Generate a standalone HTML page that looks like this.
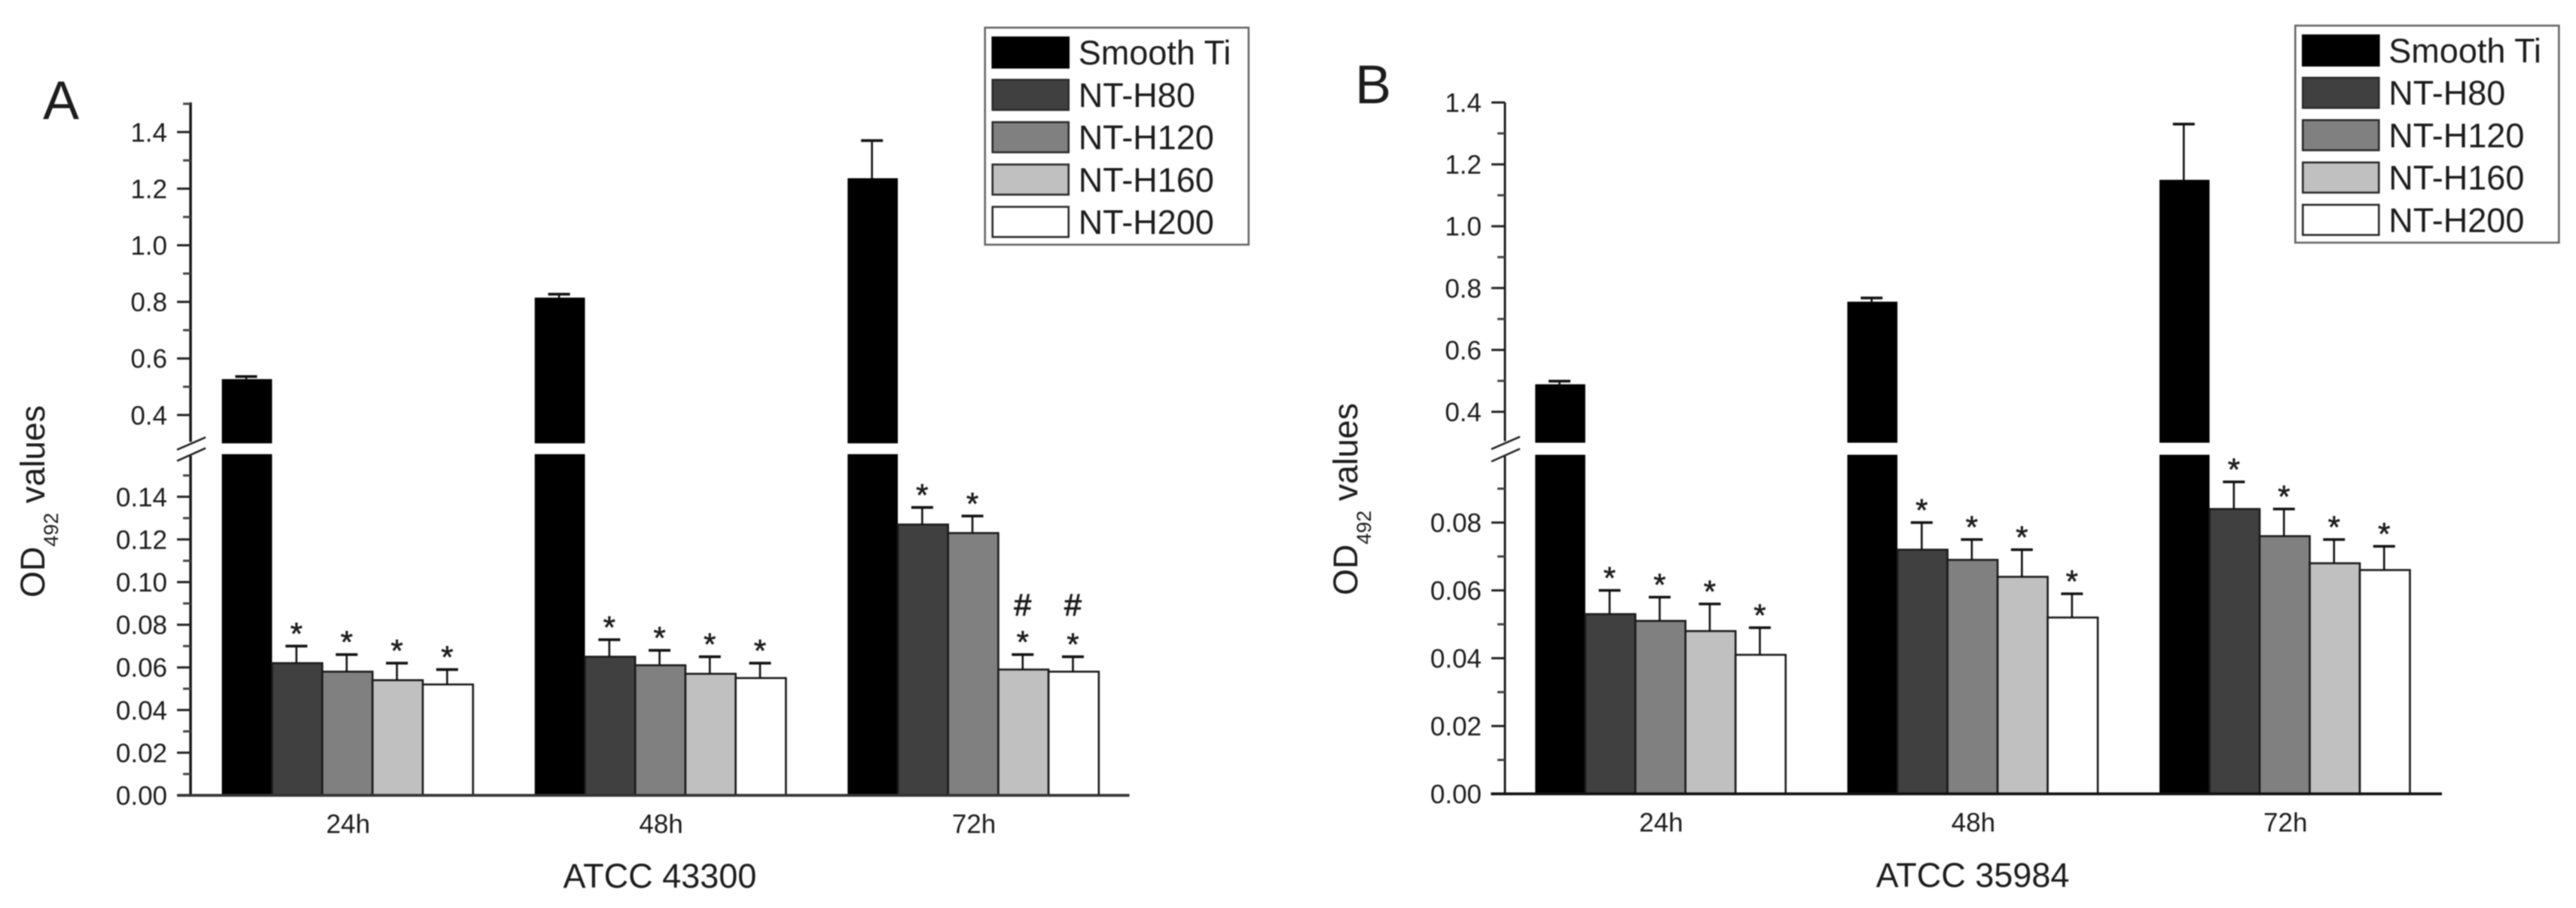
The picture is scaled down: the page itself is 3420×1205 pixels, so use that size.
<!DOCTYPE html>
<html lang="en">
<head>
<meta charset="utf-8">
<title>OD492 values for ATCC 43300 and ATCC 35984</title>
<style>
html,body{margin:0;padding:0;background:#fff;width:3420px;height:1205px;overflow:hidden}
#figure{display:block;filter:blur(0.9px)}
text{font-family:"Liberation Sans",Arial,sans-serif;fill:#1c1c1c}
</style>
</head>
<body>
<svg id="figure" xmlns="http://www.w3.org/2000/svg" width="3420" height="1205" viewBox="0 0 3420 1205">
  <rect x="0" y="0" width="3420" height="1205" fill="#fff"/>
  <text x="57" y="158" font-size="72">A</text>
  <text x="1799" y="137" font-size="72">B</text>
  <text transform="translate(59,793) rotate(-90)" font-size="45">OD<tspan font-size="27" dy="18">492</tspan><tspan dy="-18"> values</tspan></text>
  <text transform="translate(1802,790) rotate(-90)" font-size="45">OD<tspan font-size="27" dy="18">492</tspan><tspan dy="-18"> values</tspan></text>
  <text x="876" y="1178" font-size="45" text-anchor="middle">ATCC 43300</text>
  <text x="2619" y="1177" font-size="45" text-anchor="middle">ATCC 35984</text>
  <g id="panel-a"></g>
  <g id="panel-b"></g>
</svg>
<script>
// Shared categories and series
const categories = ["24h", "48h", "72h"];
const seriesNames = ["Smooth Ti", "NT-H80", "NT-H120", "NT-H160", "NT-H200"];

// Panel A values (one array per series, in category order)
const smoothTiA = [0.527, 0.815, 1.237];
const h80A = [0.062, 0.065, 0.127];
const h120A = [0.058, 0.061, 0.123];
const h160A = [0.054, 0.057, 0.059];
const h200A = [0.052, 0.055, 0.058];
// Panel A upper error bars
const smoothTiErrA = [0.009, 0.012, 0.133];
const h80ErrA = [0.008, 0.008, 0.008];
const h120ErrA = [0.008, 0.007, 0.008];
const h160ErrA = [0.008, 0.008, 0.007];
const h200ErrA = [0.007, 0.007, 0.007];
// Panel A hash markers: series index, category index, value height
const hashSeriesA = [3, 4];
const hashCategoryA = [2, 2];
const hashLevelA = [0.0845, 0.0845];
// Panel A tick labels
const upperTicksA = ["0.4", "0.6", "0.8", "1.0", "1.2", "1.4"];
const upperMinorA = [0.5, 0.7, 0.9, 1.1, 1.3, 1.5];
const lowerTicksA = ["0.00", "0.02", "0.04", "0.06", "0.08", "0.10", "0.12", "0.14"];
const lowerMinorA = [0.01, 0.03, 0.05, 0.07, 0.09, 0.11, 0.13, 0.15];

// Panel B values
const smoothTiB = [0.489, 0.756, 1.15];
const h80B = [0.053, 0.072, 0.084];
const h120B = [0.051, 0.069, 0.076];
const h160B = [0.048, 0.064, 0.068];
const h200B = [0.041, 0.052, 0.066];
// Panel B upper error bars
const smoothTiErrB = [0.01, 0.012, 0.18];
const h80ErrB = [0.007, 0.008, 0.008];
const h120ErrB = [0.007, 0.006, 0.008];
const h160ErrB = [0.008, 0.008, 0.007];
const h200ErrB = [0.008, 0.007, 0.007];
// Panel B tick labels
const upperTicksB = ["0.4", "0.6", "0.8", "1.0", "1.2", "1.4"];
const upperMinorB = [0.5, 0.7, 0.9, 1.1, 1.3];
const lowerTicksB = ["0.00", "0.02", "0.04", "0.06", "0.08"];
const lowerMinorB = [0.01, 0.03, 0.05, 0.07, 0.09];

const NS = "http://www.w3.org/2000/svg";
const seriesStyle = [
  {fill: "#000000", stroke: "#000000"},
  {fill: "#404040", stroke: "#1a1a1a"},
  {fill: "#808080", stroke: "#1a1a1a"},
  {fill: "#c0c0c0", stroke: "#1a1a1a"},
  {fill: "#ffffff", stroke: "#1a1a1a"}
];

function shape(parent, tag, props, text) {
  const el = document.createElementNS(NS, tag);
  for (const key in props) el.setAttribute(key, props[key]);
  if (text !== undefined) el.textContent = text;
  parent.appendChild(el);
  return el;
}

function drawPanel(cfg) {
  const root = document.getElementById(cfg.id);
  const breakLow = cfg.lowerMax, breakHigh = 0.3;
  const yLower = v => cfg.zeroY - v * cfg.lowerScale;
  const yUpper = v => cfg.upper04Y + (0.4 - v) * cfg.upperScale;
  const y = v => (v <= breakLow ? yLower(v) : yUpper(Math.max(v, breakHigh)));
  const xBar = (cat, ser) => cfg.groupX + cat * cfg.groupStep + ser * cfg.barW;

  // Bars
  cfg.values.forEach((vals, ser) => {
    vals.forEach((v, cat) => {
      const st = seriesStyle[ser];
      const x = xBar(cat, ser);
      if (v > breakLow) {
        const low = shape(root, "rect", {x: x, y: yLower(breakLow), width: cfg.barW, height: yLower(0) - yLower(breakLow), fill: st.fill});
        
        
        const high = shape(root, "rect", {x: x, y: yUpper(v), width: cfg.barW, height: yUpper(breakHigh) - yUpper(v), fill: st.fill});
        
        
      } else {
        const bar = shape(root, "rect", {x: x, y: yLower(v), width: cfg.barW, height: yLower(0) - yLower(v), fill: st.fill, stroke: st.stroke, "stroke-width": 2.6});
        
        
      }
    });
  });

  // Error bars and significance stars
  cfg.errors.forEach((errs, ser) => {
    errs.forEach((e, cat) => {
      const v = cfg.values[ser][cat];
      const top = y(v + e);
      const cx = xBar(cat, ser) + cfg.barW / 2 - 1;
      const stem = shape(root, "line", {x1: cx, x2: cx, y1: y(v), y2: top, stroke: "#111", "stroke-width": 2.6});
      
      
      const cap = shape(root, "line", {x1: cx - 14.5, x2: cx + 14.5, y1: top, y2: top, stroke: "#111", "stroke-width": 3.6});
      
      
      if (ser > 0) {
        const star = shape(root, "text", {x: cx, y: top - 2, "font-size": 42, "text-anchor": "middle", stroke: "#1c1c1c", "stroke-width": 0.6}, "*");
        
        
      }
    });
  });

  // Hash markers
  cfg.hashSeries.forEach((ser, i) => {
    const hash = shape(root, "text", {x: xBar(cfg.hashCategory[i], ser) + cfg.barW / 2 - 1, y: yLower(cfg.hashLevel[i]), "font-size": 41, "text-anchor": "middle", stroke: "#1c1c1c", "stroke-width": 1}, "#");
    
    
  });

  // Y axis segments
  const upperAxis = shape(root, "line", {x1: cfg.axisX, x2: cfg.axisX, y1: yUpper(cfg.upperMax), y2: yUpper(breakHigh) - 2, stroke: "#111", "stroke-width": cfg.axisW});
  
  
  const lowerAxis = shape(root, "line", {x1: cfg.axisX, x2: cfg.axisX, y1: yLower(breakLow) + 2, y2: cfg.zeroY, stroke: "#111", "stroke-width": cfg.axisW});
  
  

  // Axis break marks
  const slashA = shape(root, "line", {x1: cfg.axisX - 18, y1: yUpper(breakHigh) + 8.5, x2: cfg.axisX + 20, y2: yUpper(breakHigh) - 8, stroke: "#222", "stroke-width": 2.6});
  
  
  const slashB = shape(root, "line", {x1: cfg.axisX - 18, y1: yLower(breakLow) + 9, x2: cfg.axisX + 20, y2: yLower(breakLow) - 8, stroke: "#222", "stroke-width": 2.6});
  
  

  // Major ticks and labels
  function majorTick(label, pos) {
    const tick = shape(root, "line", {x1: cfg.axisX - 18, x2: cfg.axisX, y1: pos, y2: pos, stroke: "#222", "stroke-width": 3});
    
    
    const text = shape(root, "text", {x: cfg.axisX - 31, y: pos + 12.5, "font-size": 35, "text-anchor": "end"}, label);
    
    
  }
  cfg.upperTicks.forEach(l => majorTick(l, yUpper(parseFloat(l))));
  cfg.lowerTicks.forEach(l => majorTick(l, yLower(parseFloat(l))));

  // Minor ticks
  function minorTick(pos) {
    const tick = shape(root, "line", {x1: cfg.axisX - 10, x2: cfg.axisX, y1: pos, y2: pos, stroke: "#444", "stroke-width": 3});
    
    
  }
  cfg.upperMinor.forEach(v => minorTick(yUpper(v)));
  cfg.lowerMinor.forEach(v => minorTick(yLower(v)));

  // X axis
  const xAxis = shape(root, "line", {x1: cfg.xAxisStart, x2: cfg.xAxisEnd, y1: cfg.zeroY, y2: cfg.zeroY, stroke: cfg.xAxisColor, "stroke-width": 3.8});
  
  
  categories.forEach((c, cat) => {
    const label = shape(root, "text", {x: xBar(cat, 0) + cfg.barW * 2.5 + 1, y: cfg.zeroY + 50, "font-size": 35, "text-anchor": "middle"}, c);
    
    
  });

  // Legend
  const legend = shape(root, "g", {});
  
  
  const box = shape(legend, "rect", {x: cfg.legendX, y: cfg.legendY, width: cfg.legendW, height: 288, fill: "#fff", stroke: "#666", "stroke-width": 2.6});
  
  
  seriesNames.forEach((name, i) => {
    const sy = cfg.legendY + 13 + i * 56.2;
    const st = seriesStyle[i];
    const swatch = shape(legend, "rect", {x: cfg.legendX + 10, y: sy, width: 101, height: 40, fill: st.fill, stroke: st.stroke === "#000000" ? "#000" : "#2a2a2a", "stroke-width": 2.6});
    
    
    const text = shape(legend, "text", {x: cfg.legendX + 124, y: sy + 36, "font-size": 45}, name);
    
    
  });
}

drawPanel({
  id: "panel-a",
  values: [smoothTiA, h80A, h120A, h160A, h200A],
  errors: [smoothTiErrA, h80ErrA, h120ErrA, h160ErrA, h200ErrA],
  hashSeries: hashSeriesA, hashCategory: hashCategoryA, hashLevel: hashLevelA,
  upperTicks: upperTicksA, upperMinor: upperMinorA,
  lowerTicks: lowerTicksA, lowerMinor: lowerMinorA,
  lowerMax: 0.16, upperMax: 1.505,
  zeroY: 1055.5, lowerScale: 2830, upper04Y: 550.8, upperScale: 375.5,
  axisX: 253, axisW: 3.4,
  groupX: 294.5, groupStep: 415.4, barW: 66.7,
  xAxisStart: 235.5, xAxisEnd: 1499.5, xAxisColor: "#333",
  legendX: 1307.7, legendY: 36.7, legendW: 350
});

drawPanel({
  id: "panel-b",
  values: [smoothTiB, h80B, h120B, h160B, h200B],
  errors: [smoothTiErrB, h80ErrB, h120ErrB, h160ErrB, h200ErrB],
  hashSeries: [], hashCategory: [], hashLevel: [],
  upperTicks: upperTicksB, upperMinor: upperMinorB,
  lowerTicks: lowerTicksB, lowerMinor: lowerMinorB,
  lowerMax: 0.1, upperMax: 1.4,
  zeroY: 1053.5, lowerScale: 4500, upper04Y: 546.5, upperScale: 410.5,
  axisX: 1998, axisW: 2.8,
  groupX: 2038.2, groupStep: 414.4, barW: 66.5,
  xAxisStart: 1979.4, xAxisEnd: 3242, xAxisColor: "#111",
  legendX: 3047.3, legendY: 34, legendW: 350
});
</script>
</body>
</html>
